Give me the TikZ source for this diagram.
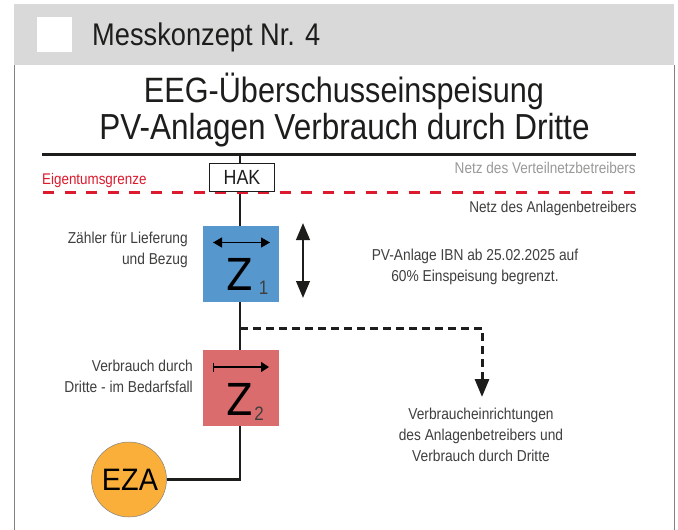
\documentclass[tikz,border=0pt]{standalone}
\usepackage{fontspec}
\setmainfont[FakeStretch=0.87]{Liberation Sans}
\newfontfamily\widefont[FakeStretch=0.93]{Liberation Sans}
\newfontfamily\zfont[FakeStretch=0.88]{DejaVu Sans}
\usetikzlibrary{arrows.meta}
\definecolor{hdr}{RGB}{217,217,217}
\definecolor{ink}{RGB}{29,29,27}
\definecolor{redl}{RGB}{220,25,45}
\definecolor{blueb}{RGB}{86,151,205}
\definecolor{redb}{RGB}{219,108,110}
\definecolor{orangec}{RGB}{250,175,58}
\definecolor{frameg}{RGB}{130,130,130}
\newcommand{\fs}[2]{\fontsize{#1}{#2}\selectfont}
\tikzset{
  wire/.style={draw=ink,line width=2.8pt},
  lbl/.style={inner sep=0pt,text=ink!85,font=\fs{15.8}{21},align=right,anchor=east},
  lblc/.style={inner sep=0pt,text=ink!85,font=\fs{15.8}{21},align=center},
  meter/.style={minimum size=76pt,inner sep=0pt},
  bigz/.style={inner sep=0pt,font=\zfont\fs{44}{44},text=black},
  sub/.style={inner sep=0pt,font=\fs{19.5}{19.5},text=ink!85},
}
\begin{document}
\begin{tikzpicture}[x=1pt,y=-1pt]
\useasboundingbox (0,0) rectangle (678,530);
\fill[white] (0,0) rectangle (678,530);
\draw[frameg,line width=1pt] (14.5,65) -- (14.5,530);
\draw[frameg,line width=1pt] (674,65) -- (674,530);
\node[fill=hdr,minimum width=660pt,minimum height=61pt,inner sep=0pt,anchor=north west] (hdr) at (14,4) {};
\node[fill=white,minimum size=35pt,inner sep=0pt] (sq) at (54,34) {};
\node[inner sep=0pt,anchor=west,font=\fs{31.3}{31.3},text=ink] (t0) at (92,37) {Messkonzept Nr. 4};
\node[inner sep=0pt,font=\fs{35.2}{36},text=ink] (t1) at (344,91) {EEG-Überschusseinspeisung};
\node[inner sep=0pt,font=\fs{36.2}{36},text=ink] (t2) at (344.5,130) {PV-Anlagen Verbrauch durch Dritte};
\coordinate (busl) at (42,154.5);
\coordinate (busr) at (636,154.5);
\coordinate (busm) at (240,154.5);
\coordinate (redla) at (43,192);
\coordinate (redlb) at (637,192);
\node[fill=white,minimum width=65pt,minimum height=28pt,inner sep=0pt] (hak) at (242,177.5) {};
\node[meter,fill=blueb] (z1) at (241,264) {};
\node[meter,fill=redb] (z2) at (241,388) {};
\node[circle,fill=orangec,draw=frameg,line width=.5pt,minimum size=75pt,inner sep=0pt,font=\widefont\fs{31}{31},text=black] (eza) at (129,479.5) {\kern2pt EZA};
\coordinate (junc) at (240,328);
\coordinate (corner) at (240,479.5);
\coordinate (dcorner) at (482,328);
\coordinate (darrow) at (482,397);
\draw[wire] (busl) -- (busr);
\draw[wire] (busm) -- (hak.north -| busm);
\draw[wire] (hak.south -| busm) -- (z1.north -| busm);
\draw[wire] (z1.south -| busm) -- (z2.north -| busm);
\draw[wire,line join=miter] (z2.south -| busm) -- (corner) -- (eza.east);
\draw[redl,line width=3pt,dash pattern=on 11pt off 10.5pt] (redla) -- (redlb);
\node[draw=ink,line width=1.2pt,minimum width=65pt,minimum height=28pt,inner sep=0pt,font=\fs{20.5}{20.5},text=ink] (hakt) at (242,177.5) {HAK};
\draw[ink,line width=3pt,dash pattern=on 8pt off 5pt,-{Triangle[length=18pt,width=14pt]}] (junc) -- (dcorner) -- (darrow);
\node[inner sep=0pt,anchor=west,font=\fs{15.4}{21},text=redl] (eg) at (42,181) {Eigentumsgrenze};
\node[lbl,font=\fs{15.6}{21},text=ink!45] (n1) at (636,168) {Netz des Verteilnetzbetreibers};
\node[lbl,font=\fs{15.6}{21}] (n2) at (637,208) {Netz des Anlagenbetreibers};
\node[lbl] (l1) at (188,250) {Zähler für Lieferung\\und Bezug};
\node[lbl] (l2) at (193,376) {Verbrauch durch\\Dritte - im Bedarfsfall};
\node[lblc] (pv) at (475,267) {PV-Anlage IBN ab 25.02.2025 auf\\60\% Einspeisung begrenzt.};
\node[lblc] (vb) at (481,435) {Verbraucheinrichtungen\\des Anlagenbetreibers und\\Verbrauch durch Dritte};
\coordinate (a1l) at (213,242.5);
\coordinate (a1r) at (270,242.5);
\draw[black,line width=1.3pt,{Triangle[length=9pt,width=10pt]}-{Triangle[length=9pt,width=10pt]}] (a1l) -- (a1r);
\coordinate (a2t) at (303,223);
\coordinate (a2b) at (303,298);
\draw[ink,line width=2.6pt,{Triangle[length=17pt,width=13.5pt]}-{Triangle[length=17pt,width=13.5pt]}] (a2t) -- (a2b);
\coordinate (a3l) at (212.5,367);
\coordinate (a3r) at (269,367);
\draw[black,line width=1.2pt,{Bar[width=9pt,line width=1.3pt]}-{Triangle[length=8pt,width=10pt]}] (a3l) -- (a3r);
\node[bigz] (z1t) at (239.5,274) {Z};
\node[sub] (z1s) at (263.5,288) {1};
\node[bigz] (z2t) at (239.5,399.5) {Z};
\node[sub] (z2s) at (259,414) {2};
\end{tikzpicture}
\end{document}
